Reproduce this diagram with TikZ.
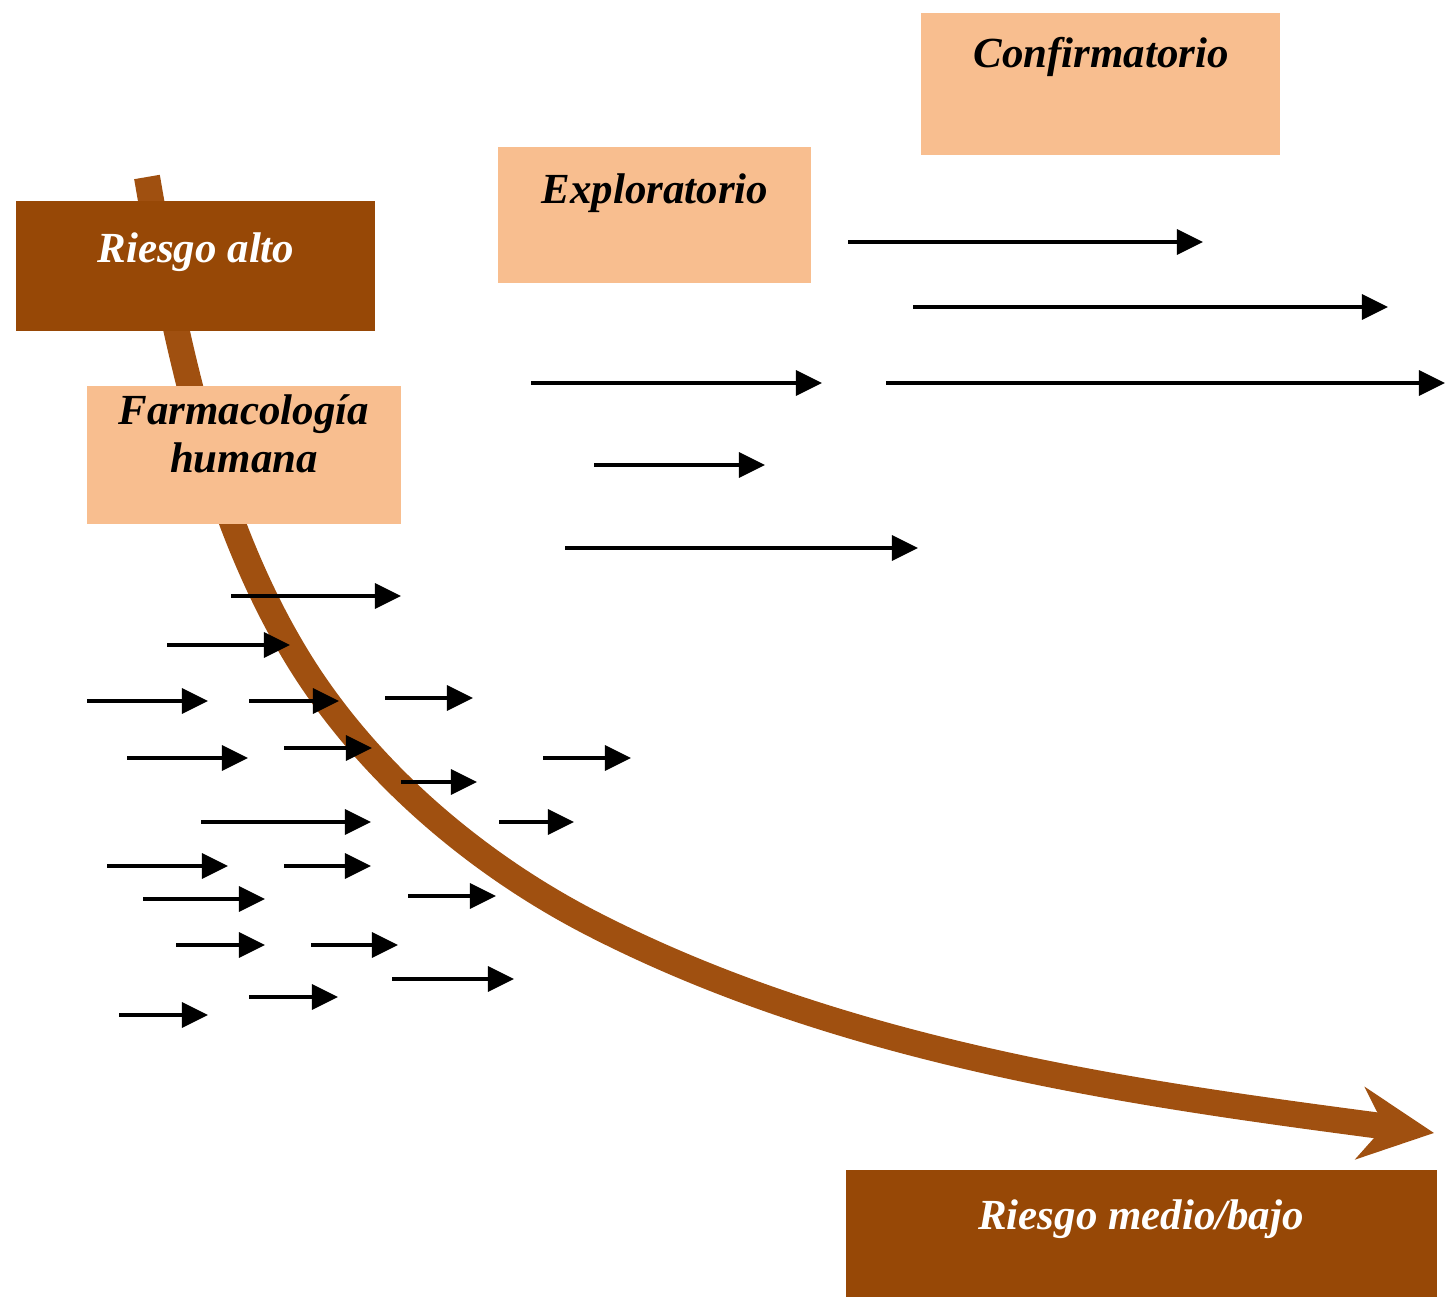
\documentclass[tikz,border=0pt]{standalone}
\usepackage{fontspec}
\setmainfont{Liberation Serif}
\usepackage{xcolor}
\usepackage{tikz}
\usetikzlibrary{arrows.meta,positioning}
\definecolor{darkbrown}{RGB}{151,72,6}
\definecolor{curvebrown}{RGB}{160,80,16}
\definecolor{peach}{RGB}{248,190,143}
\newcommand{\lblfont}{\fontsize{12.2}{13.7}\selectfont\bfseries\itshape}

\begin{document}
\begin{tikzpicture}[x=0.01cm, y=-0.01cm, darkbox/.style={fill=darkbrown, inner sep=0pt, draw=none}, lightbox/.style={fill=peach, inner sep=0pt, draw=none}, wlabel/.style={font=\lblfont, text=white, anchor=base, inner sep=0pt}, blabel/.style={font=\lblfont, text=black, anchor=base, inner sep=0pt, align=center}, arr/.style={-{Triangle[length=0.26cm,width=0.25cm]}, line width=0.9pt, black}, riskarrow/.style={-{Stealth[length=0.74cm,width=0.72cm,inset=0.24cm]}, line width=7.4pt, draw=curvebrown}]
\useasboundingbox (0,0) rectangle (1447,1297);
% risk curve, behind the boxes
\coordinate (top) at (147,177); \coordinate (bend1) at (291,647); \coordinate (bend2) at (591,923); \coordinate (tip) at (1434,1133);
\draw[riskarrow] (top) .. controls (174,335) and (210,509) .. (bend1) .. controls (359,764) and (471,861) .. (bend2) .. controls (849,1056) and (1147,1095) .. (tip);
\node[darkbox,  minimum width=3.59cm, minimum height=1.30cm] (ra)   at (195.5,266)  {};
\node[lightbox, minimum width=3.14cm, minimum height=1.38cm] (fh)   at (244,455)    {};
\node[lightbox, minimum width=3.13cm, minimum height=1.36cm] (expl) at (654.5,215)  {};
\node[lightbox, minimum width=3.59cm, minimum height=1.42cm] (conf) at (1100.5,84)  {};
\node[darkbox,  minimum width=5.91cm, minimum height=1.27cm] (rmb)  at (1141.5,1233.5) {};
\node[wlabel] (ratxt)   at (196,263)   {Riesgo alto};
\node[blabel] (fhtxt)   at (244,473)   {Farmacología\\humana};
\node[blabel] (expltxt) at (655,204)   {Exploratorio};
\node[blabel] (conftxt) at (1101,68)   {Confirmatorio};
\node[wlabel] (rmbtxt)  at (1141,1229) {Riesgo medio/bajo};
% arrows, upper right
\draw[arr] (848,242)--(1203,242); \draw[arr] (913,307)--(1388,307); \draw[arr] (531,383)--(822,383); \draw[arr] (886,383)--(1445,383);
\draw[arr] (594,465)--(765,465); \draw[arr] (565,548)--(918,548);
% arrows, lower left
\draw[arr] (231,596)--(401,596); \draw[arr] (167,645)--(290,645); \draw[arr] (87,701)--(208,701); \draw[arr] (249,701)--(339,701);
\draw[arr] (385,698)--(473,698); \draw[arr] (127,758)--(248,758); \draw[arr] (284,748)--(372,748); \draw[arr] (543,758)--(631,758);
\draw[arr] (401,782)--(477,782); \draw[arr] (499,822)--(574,822); \draw[arr] (201,822)--(371,822); \draw[arr] (107,866)--(228,866);
\draw[arr] (284,866)--(371,866); \draw[arr] (143,899)--(265,899); \draw[arr] (408,896)--(496,896); \draw[arr] (176,945)--(265,945);
\draw[arr] (311,945)--(398,945); \draw[arr] (392,979)--(514,979); \draw[arr] (249,997)--(338,997); \draw[arr] (119,1015)--(208,1015);
\end{tikzpicture}
\end{document}
